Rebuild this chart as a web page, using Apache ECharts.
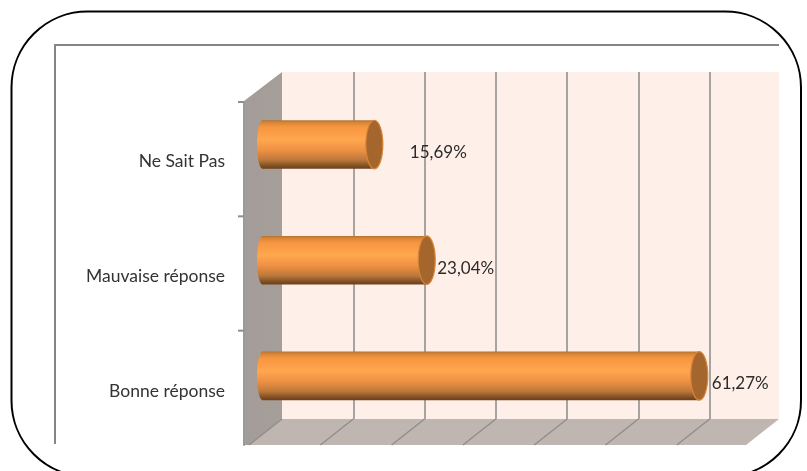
<!DOCTYPE html>
<html>
<head>
<meta charset="utf-8">
<style>html,body{margin:0;padding:0;background:#fff}#c{width:807px;height:471px}</style>
<script src="https://cdn.jsdelivr.net/npm/echarts@6/dist/echarts.min.js"></script>
</head>
<body>
<div id="c"></div>
<script>
var categories = ['Bonne réponse', 'Mauvaise réponse', 'Ne Sait Pas'];
var values = [61.27, 23.04, 15.69];
var valueLabels = ['61,27%', '23,04%', '15,69%'];
var axisTicks = [0, 10, 20, 30, 40, 50, 60];

// layout only
var labelGaps = [4, 2, 27];
var BAR_DX = -19.5, BAR_DY = 14.7, FLOOR_DX = -33, FLOOR_DY = 26, WALL_DX = -38, WALL_DY = 29, BACK_TRIM = 2;
var FONT = 'Lato, "Open Sans", sans-serif';
var LG = function (stops) {
  return new echarts.graphic.LinearGradient(0, 0, 0, 1, stops);
};

function barParts(params, api) {
  var i = params.dataIndex;
  var p = api.coord([api.value(0), api.value(1)]);
  var p0 = api.coord([0, api.value(1)]);
  var h = api.size([0, 1])[1] * 0.42;
  var cy = p[1] + BAR_DY, xEnd = p[0] + BAR_DX, xStart = p0[0] + BAR_DX;
  var rx = 8.5, ry = h / 2;
  var fill = LG([
    { offset: 0, color: '#b5722f' },
    { offset: 0.05, color: '#d98638' },
    { offset: 0.14, color: '#f79640' },
    { offset: 0.4, color: '#ffa74f' },
    { offset: 0.62, color: '#ee9043' },
    { offset: 0.82, color: '#bb783b' },
    { offset: 0.95, color: '#7c4c22' },
    { offset: 1, color: '#6c401b' }
  ]);
  return {
    type: 'group',
    children: [
      { type: 'ellipse', shape: { cx: xStart, cy: cy, rx: 5.5, ry: ry }, style: { fill: fill } },
      { type: 'rect', shape: { x: xStart, y: cy - ry, width: xEnd - xStart, height: h }, style: { fill: fill } },
      { type: 'ellipse', shape: { cx: xEnd, cy: cy, rx: rx, ry: ry }, style: { fill: '#a5662d', stroke: '#d9843a', lineWidth: 1.2 } },
      { type: 'text', style: {
          text: valueLabels[i], x: xEnd + rx + labelGaps[i], y: cy + 8,
          font: '17px ' + FONT, fill: '#2b2b2b', align: 'left', verticalAlign: 'middle' } }
    ]
  };
}

function sceneParts(params) {
  var c = params.coordSys;
  var l = c.x, t = c.y, r = c.x + c.width - BACK_TRIM, b = c.y + c.height;
  return {
    type: 'group',
    children: [
      { type: 'rect', shape: { x: l, y: t, width: r - l, height: c.height }, style: { fill: '#feefe8' } },
      { type: 'polygon', shape: { points: [[l + WALL_DX, t + WALL_DY], [l, t], [l, b], [l + FLOOR_DX, b + FLOOR_DY], [l + WALL_DX, b + FLOOR_DY]] },
        style: { fill: new echarts.graphic.LinearGradient(0, 0, 1, 0, [{ offset: 0, color: '#a39c98' }, { offset: 1, color: '#a69e99' }]) } },
      { type: 'polygon', shape: { points: [[l, b], [r, b], [r + FLOOR_DX, b + FLOOR_DY], [l + FLOOR_DX, b + FLOOR_DY]] }, style: { fill: '#bfb6b1' } }
    ]
  };
}

function floorLine(params, api) {
  var p = api.coord([api.value(0), 0]);
  var b = params.coordSys.y + params.coordSys.height;
  return { type: 'line', shape: { x1: p[0], y1: b, x2: p[0] + FLOOR_DX, y2: b + FLOOR_DY }, style: { stroke: '#908d8b', lineWidth: 1.4 } };
}

function tickLine(params, api) {
  var p = api.coord([0, api.value(0)]);
  var y = p[1] - api.size([0, 1])[1] / 2;
  return { type: 'line', shape: { x1: p[0] - 6, y1: y, x2: p[0], y2: y }, style: { stroke: '#8f8f8f', lineWidth: 2 } };
}

var chart = echarts.init(document.getElementById('c'), null, { renderer: 'canvas' });
chart.setOption({
  animation: false,
  backgroundColor: '#ffffff',
  grid: [
    { left: 282, top: 72, width: 499, height: 347, containLabel: false },
    { left: 244, top: 102, width: 497, height: 343, containLabel: false },
    { left: 244, top: 104, width: 497, height: 345, containLabel: false }
  ],
  xAxis: [
    { gridIndex: 0, type: 'value', min: 0, max: 70, interval: 10,
      axisLabel: { show: false }, axisLine: { show: false }, axisTick: { show: false },
      splitLine: { show: true, showMinLine: false, showMaxLine: false, lineStyle: { color: '#a6a3a0', width: 2 } } },
    { gridIndex: 1, type: 'value', min: 0, max: 70, show: false, splitLine: { show: false } },
    { gridIndex: 2, type: 'value', min: 0, max: 70, show: false, splitLine: { show: false } }
  ],
  yAxis: [
    { gridIndex: 0, type: 'category', data: categories, axisLabel: { show: false }, axisLine: { show: false }, axisTick: { show: false } },
    { gridIndex: 1, type: 'category', data: categories,
      axisLine: { show: true, lineStyle: { color: '#9a9a9a', width: 2 } },
      axisTick: { show: false }, axisLabel: { show: false } },
    { gridIndex: 2, type: 'category', data: categories,
      axisLine: { show: false }, axisTick: { show: false },
      axisLabel: { show: true, margin: 19, color: '#333333', fontFamily: FONT, fontSize: 17.5 } }
  ],
  graphic: { elements: [
    { type: 'rect', silent: true, shape: { x: 11.5, y: 11.5, width: 789.5, height: 465, r: 76 },
      style: { fill: 'none', stroke: '#000000', lineWidth: 2 }, z: 20 },
    { type: 'polyline', silent: true, shape: { points: [[55, 444], [55, 45], [779, 45]] },
      style: { fill: 'none', stroke: '#858585', lineWidth: 2 }, z: 20 }
  ] },
  series: [
    { type: 'custom', name: 'scene', xAxisIndex: 0, yAxisIndex: 0, z: -2, silent: true, data: [[0, 0]], renderItem: sceneParts },
    { type: 'custom', name: 'floor', xAxisIndex: 0, yAxisIndex: 0, z: -1, silent: true, data: axisTicks.map(function (t) { return [t]; }), renderItem: floorLine },
    { type: 'custom', name: 'ticks', xAxisIndex: 1, yAxisIndex: 1, z: 1, silent: true, data: categories.map(function (c, i) { return [i]; }), encode: { y: 0 }, renderItem: tickLine },
    { type: 'custom', name: 'Réponses', xAxisIndex: 0, yAxisIndex: 0, z: 3, data: values.map(function (v, i) { return [v, i]; }), encode: { x: 0, y: 1 }, renderItem: barParts }
  ]
});
</script>
</body>
</html>
